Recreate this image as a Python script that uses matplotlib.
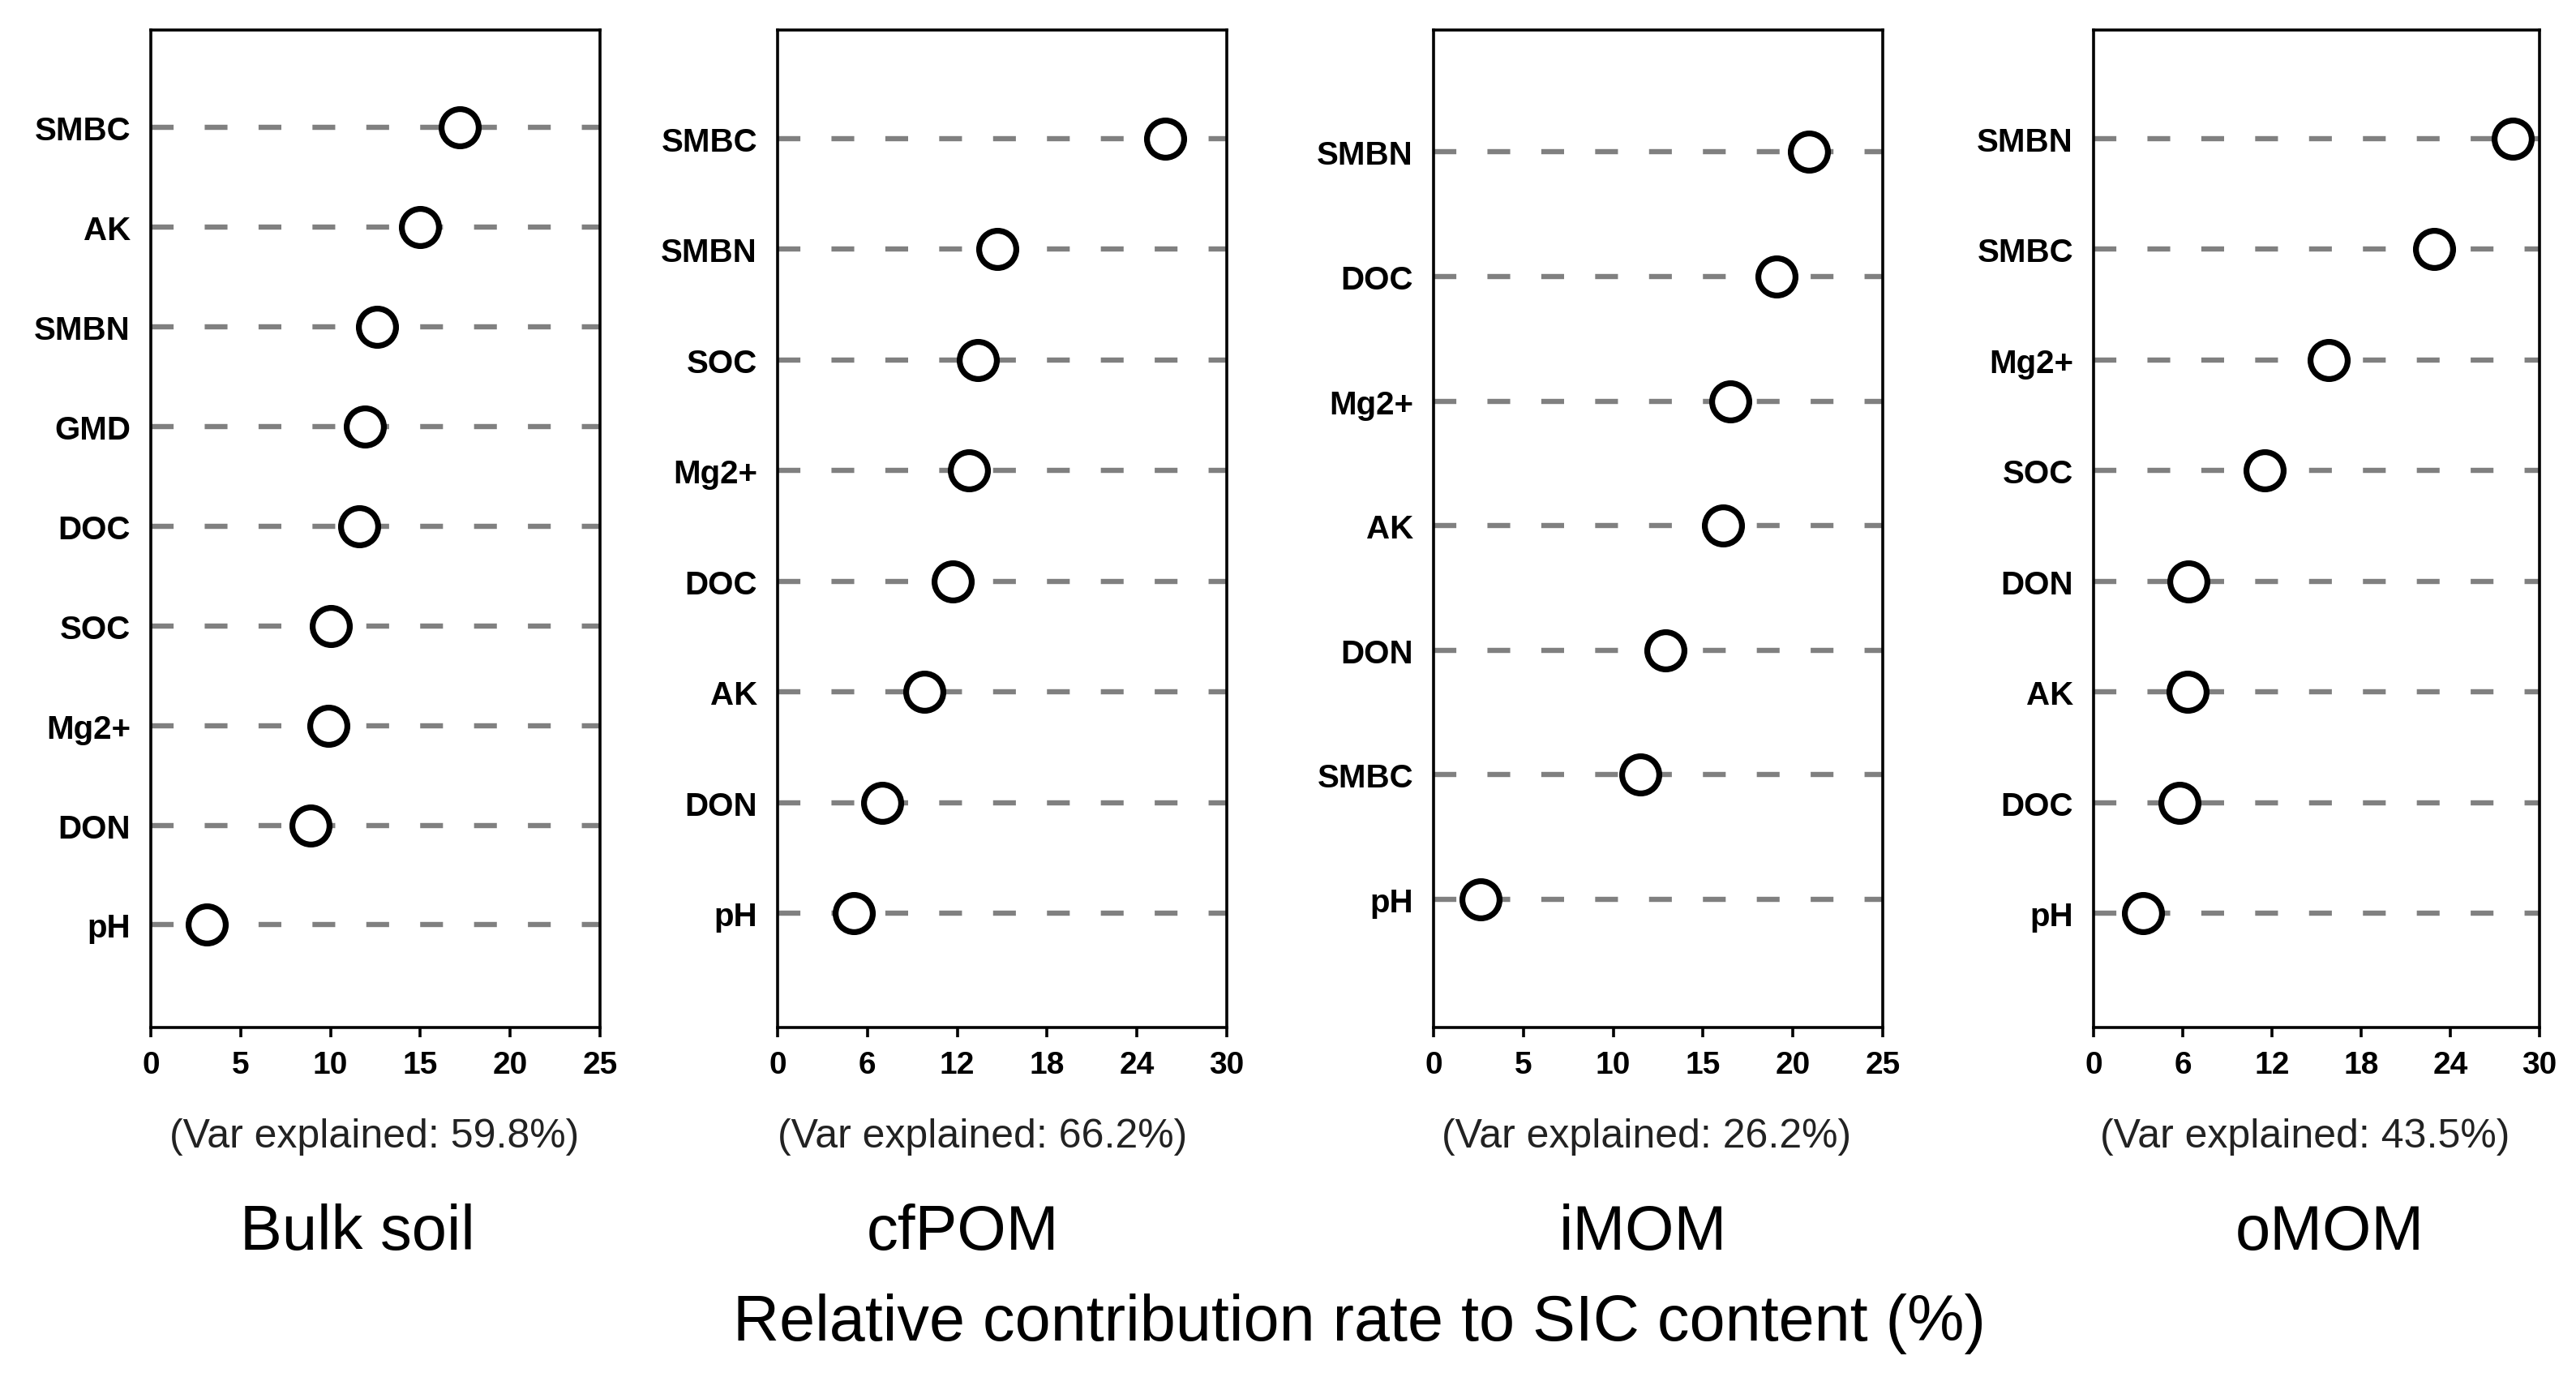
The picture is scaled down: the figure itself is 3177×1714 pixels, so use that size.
import matplotlib
matplotlib.use("Agg")
import matplotlib.pyplot as plt

# data (top to bottom in each panel)
bulk_labels = ["SMBC", "AK", "SMBN", "GMD", "DOC", "SOC", "Mg2+", "DON", "pH"]
bulk_values = [17.2, 15.0, 12.6, 11.9, 11.6, 10.0, 9.9, 8.9, 3.1]

cfpom_labels = ["SMBC", "SMBN", "SOC", "Mg2+", "DOC", "AK", "DON", "pH"]
cfpom_values = [25.9, 14.7, 13.4, 12.8, 11.7, 9.8, 7.0, 5.1]

imom_labels = ["SMBN", "DOC", "Mg2+", "AK", "DON", "SMBC", "pH"]
imom_values = [20.9, 19.1, 16.5, 16.1, 12.9, 11.5, 2.6]

omom_labels = ["SMBN", "SMBC", "Mg2+", "SOC", "DON", "AK", "DOC", "pH"]
omom_values = [28.2, 22.9, 15.8, 11.5, 6.4, 6.3, 5.8, 3.3]

panel_names = ["Bulk soil", "cfPOM", "iMOM", "oMOM"]
var_explained = ["59.8%", "66.2%", "26.2%", "43.5%"]
x_max = [25, 30, 25, 30]
x_ticks = [[0, 5, 10, 15, 20, 25], [0, 6, 12, 18, 24, 30],
           [0, 5, 10, 15, 20, 25], [0, 6, 12, 18, 24, 30]]

W, H = 3177, 1715
fig = plt.figure(figsize=(W / 200, H / 200), dpi=200)

narrow = ["Liberation Sans Narrow", "Liberation Sans", "DejaVu Sans"]
arial = ["Liberation Sans", "DejaVu Sans"]

# axes boxes in pixels: left, right
lefts = [186, 959, 1768, 2582]
rights = [740, 1513, 2322, 3132]
top, bottom = 38, 1268
name_x = [441, 1187, 2026, 2873]
var_x = [462, 1212, 2031, 2843]

panels = [(bulk_labels, bulk_values), (cfpom_labels, cfpom_values),
          (imom_labels, imom_values), (omom_labels, omom_values)]

for i, (labels, values) in enumerate(panels):
    ax = fig.add_axes([lefts[i] / W, 1 - bottom / H,
                       (rights[i] - lefts[i]) / W, (bottom - top) / H])
    n = len(labels)
    ypos = list(range(n - 1, -1, -1))
    for y in ypos:
        ax.axhline(y, color="#808080", lw=2.3, dashes=(4.4, 6.0), zorder=1)
    ax.plot(values, ypos, "o", ms=16.5, mfc="white", mec="black", mew=2.6,
            zorder=3, clip_on=False)
    ax.set_xlim(0, x_max[i])
    ax.set_ylim(-1.03, n - 0.02)
    ax.set_xticks(x_ticks[i])
    ax.set_xticklabels([str(t) for t in x_ticks[i]], family=narrow,
                       fontweight="bold", fontsize=14)
    ax.set_yticks(ypos)
    ax.set_yticklabels(labels, family=arial, fontweight="bold", fontsize=14.5)
    ax.tick_params(axis="y", length=0, pad=9)
    ax.tick_params(axis="x", direction="out", length=4.2, width=1.3, pad=6)
    for s in ax.spines.values():
        s.set_linewidth(1.3)

    fig.text(var_x[i] / W, 1 - 1402 / H, "(Var explained: %s)" % var_explained[i],
             ha="center", va="center", family=arial, fontsize=18, color="#222222")
    fig.text(name_x[i] / W, 1 - 1520 / H, panel_names[i],
             ha="center", va="center", family=arial, fontsize=28)

fig.text(1676 / W, 1 - 1633 / H, "Relative contribution rate to SIC content (%)",
         ha="center", va="center", family=arial, fontsize=28.5)

fig.savefig("out.png", dpi=200, facecolor="white")
